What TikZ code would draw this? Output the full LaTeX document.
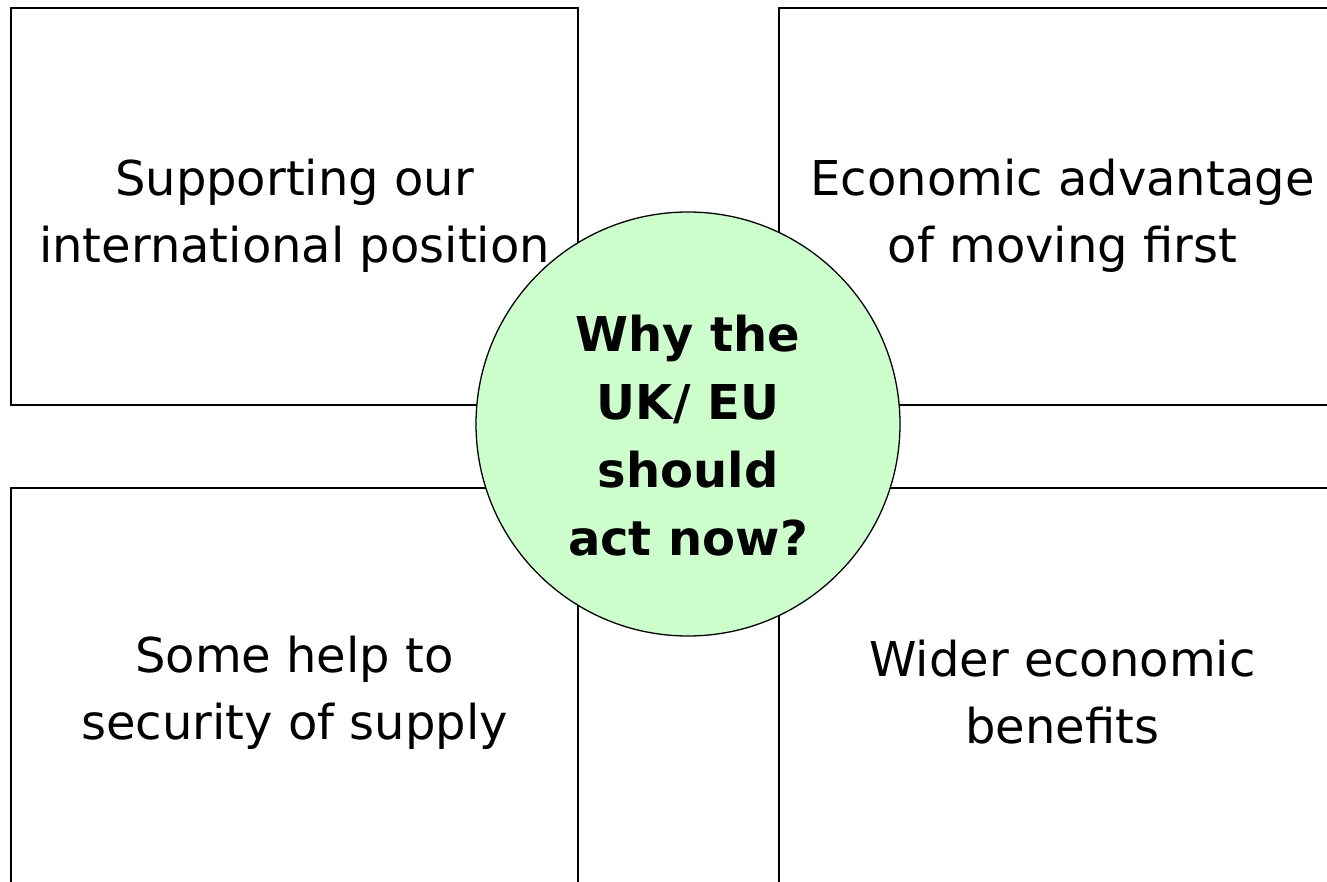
\documentclass[tikz,border=0pt]{standalone}
\usepackage{fontspec}
\setmainfont{DejaVu Sans}
\definecolor{hubgreen}{HTML}{CCFFCC}
\begin{document}
\begin{tikzpicture}[x=1pt,y=-1pt,
  box/.style={draw=black,line width=1.3pt,rectangle,minimum width=567pt,minimum height=397pt,inner sep=0pt},
  boxtext/.style={inner sep=0pt,align=center,font=\fontsize{48}{67}\selectfont},
  hub/.style={draw=black,line width=1.3pt,circle,fill=hubgreen,minimum size=424pt,inner sep=0pt},
  hubtext/.style={align=center,inner sep=0pt,font=\fontsize{48}{68}\selectfont\bfseries}]
\useasboundingbox (0,0) rectangle (1327,882);
\clip (0,0) rectangle (1327,882);
\node[box] (tl) at (294.5,206.5) {};
\node[box] (tr) at (1062.5,206.5) {};
\node[box] (bl) at (294.5,686.5) {};
\node[box] (br) at (1062.5,686.5) {};
\node[boxtext] (tlt) at ([yshift=-9pt]tl.center) {Supporting our\\international position};
\node[boxtext] (trt) at ([yshift=-9pt]tr.center) {Economic advantage\\of moving first};
\node[boxtext] (blt) at ([yshift=-6pt]bl.center) {Some help to\\security of supply};
\node[boxtext] (brt) at ([yshift=-6pt]br.center) {Wider economic\\benefits};
\node[hub] (hub) at (688,424) {};
\node[hubtext] (hubt) at ([yshift=-12pt]hub.center) {Why the\\UK/ EU\\should\\act now?};
\end{tikzpicture}
\end{document}
